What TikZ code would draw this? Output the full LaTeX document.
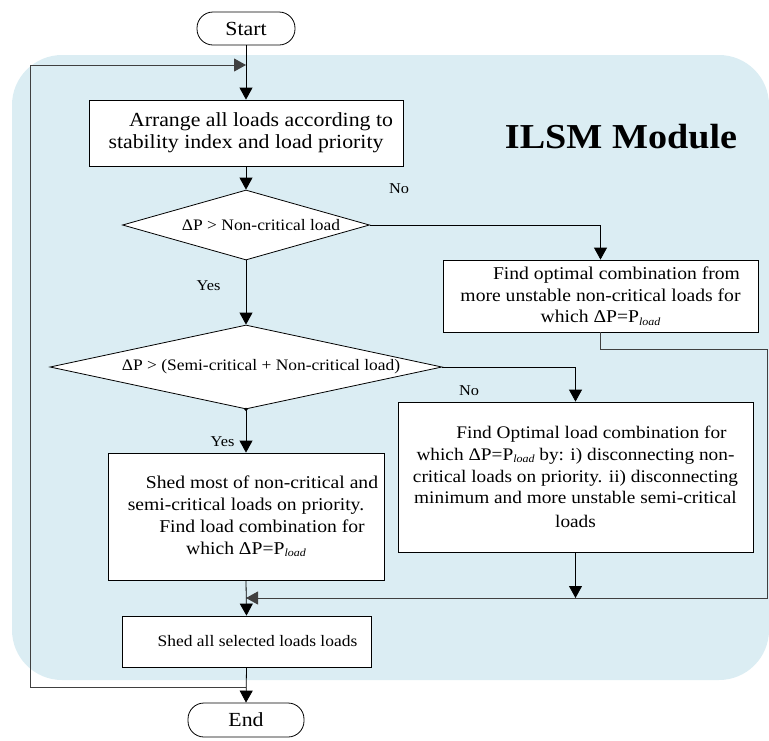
\documentclass[tikz,border=0pt]{standalone}
\usepackage{fontspec}
\setmainfont{Liberation Serif}[FakeStretch=1.09]
\usetikzlibrary{arrows.meta,shapes.geometric}
\definecolor{bgc}{RGB}{219,237,243}
\newcommand{\Pld}{P\raisebox{-2.5pt}{\fontsize{11}{11}\selectfont\itshape load}}
\begin{document}
\begin{tikzpicture}[x=1pt,y=-1pt,
  every node/.style={font=\fontsize{20}{21.7}\selectfont},
  box/.style={draw=black, fill=white, line width=0.8pt, align=center, inner sep=0pt},
  sbox/.style={box, font=\fontsize{18}{21.7}\selectfont},
  term/.style={box, rounded corners=16pt},
  dec/.style={draw=black, fill=white, line width=0.8pt, shape=diamond, inner sep=0pt, align=center, font=\fontsize{16}{18}\selectfont},
  lbl/.style={font=\fontsize{15}{16}\selectfont},
  arr/.style={line width=0.8pt, -{Triangle[width=13pt,length=12pt]}},
  gline/.style={line width=0.9pt, draw=black!75}]
\useasboundingbox (0,0) rectangle (769,740);
% module background
\fill[bgc, rounded corners=50pt] (12,55) rectangle (769,680);
\node[font=\fontsize{35}{40}\selectfont\bfseries] (title) at (621,137) {ILSM Module};

% nodes
\node[term, minimum width=98pt, minimum height=33pt] (start) at (246,28.5) {Start};
\node[box, minimum width=314pt, minimum height=66pt] (arrange) at (246,133)
  {\hspace*{30pt}Arrange all loads according to\\stability index and load priority};
\node[dec, aspect=3.53, minimum width=247pt, minimum height=70pt] (d1) at (246,225) {\hspace*{30pt}ΔP > Non-critical load};
\node[sbox, minimum width=315pt, minimum height=72pt] (r1) at (600.5,296)
  {\hspace*{32pt}Find optimal combination from\\more unstable non-critical loads for\\which ΔP=\Pld};
\node[dec, aspect=4.67, minimum width=392pt, minimum height=84pt] (d2) at (246,367) {\hspace*{30pt}ΔP > (Semi-critical + Non-critical load)};
\node[sbox, font=\fontsize{17.7}{21.7}\selectfont, minimum width=355pt, minimum height=150pt] (r2) at (575.5,477)
  {\hspace*{32pt}Find Optimal load combination for\\which ΔP=\Pld{} by: i) disconnecting non-\\critical loads on priority. ii) disconnecting\\minimum and more unstable semi-critical\\[2pt]loads};
\node[sbox, minimum width=276pt, minimum height=127pt] (l2) at (246,516.5)
  {\hspace*{32pt}Shed most of non-critical and\\semi-critical loads on priority.\\\hspace*{32pt}Find load combination for\\which ΔP=\Pld};
\node[box, minimum width=249pt, minimum height=51pt, font=\fontsize{16}{18}\selectfont] (l3) at (246.5,641.5)
  {\hspace*{22pt}Shed all selected loads loads};
\node[term, minimum width=116pt, minimum height=34pt] (end) at (246,720) {End};

% labels
\node[lbl] (no1) at (399,189) {No};
\node[lbl] (yes1) at (208.5,285.5) {Yes};
\node[lbl] (no2) at (469,391) {No};
\node[lbl] (yes2) at (222.5,441.5) {Yes};

% junction coordinates
\coordinate (j0) at (246,65);
\coordinate (j1) at (246,687);
\coordinate (m) at (246,598);
\coordinate (fbl) at (30,687);
\coordinate (rr) at (767,598);

% connectors
\draw[arr] (start.south) -- (arrange.north);
\draw[gline, -{Triangle[width=13pt,length=12pt]}] (j1) -- (fbl) |- (j0);
\draw[arr] (arrange.south) -- (d1.north);
\draw[arr] (d1.east) -| (r1.north);
\draw[arr] (d1.south) -- (d2.north);
\draw[arr] (d2.east) -| (r2.north);
\draw[arr] (d2.south) -- (l2.north);
\fill (d2.south) circle (1.8pt);
\draw[gline, -{Triangle[width=13pt,length=12pt]}] (r1.south) -- ++(0,17) -| (rr) -- (m);
\draw[arr] (r2.south) -- (r2.south |- m);
\draw[arr] (l2.south) -- (l3.north);
\draw[arr] (l3.south) -- (end.north);
\end{tikzpicture}
\end{document}
